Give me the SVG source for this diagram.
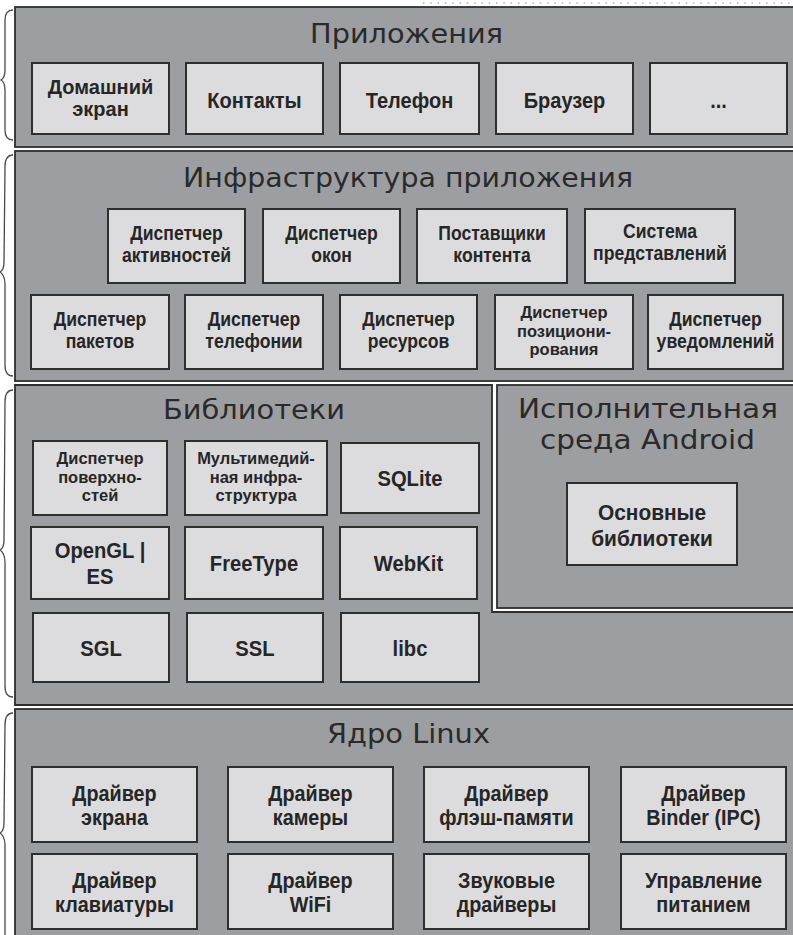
<svg xmlns="http://www.w3.org/2000/svg" width="793" height="935" viewBox="0 0 793 935">
<style>
.layer{fill:#9d9ea2;stroke:#2e2e2e;stroke-width:1.8}
.node{fill:#dcdcde;stroke:#2e2e2e;stroke-width:2}
.brace{fill:none;stroke:#4a4a4a;stroke-width:1.3}
.t{font-family:"DejaVu Sans","Noto Sans",sans-serif;font-size:26px;fill:#2a2a2a;text-anchor:middle}
.n{font-family:"Liberation Sans",Arial,sans-serif;font-weight:bold;font-size:22px;fill:#262626;text-anchor:middle}
.m{font-size:20px}
.s{font-size:16.5px}
</style>
<rect width="793" height="935" fill="#ffffff"/>
<line x1="423" y1="3" x2="793" y2="3" stroke="#b0b0b0" stroke-width="1.5" stroke-dasharray="1.5 5.8"/>
<g id="braces">
<path class="brace" d="M13,10 C7,10 5,14 5,20 L5,70 C5,76 3,79 1,80 C3,81 5,84 5,90 L5,130 C5,136 7,140 13,140"/>
<path class="brace" d="M13,155 C7,155 5,160 5,167 L4,262 C4,268 2,271 0,272 C2,273 5,277 5,284 L5,365 C5,372 7,376 13,376"/>
<path class="brace" d="M13,390 C7,390 5,395 5,402 L4,540 C4,546 2,549 0,550 C2,551 5,555 5,562 L5,686 C5,693 7,697 13,697"/>
<path class="brace" d="M13,713 C7,713 5,718 5,725 L4,823 C4,829 2,832 0,833 C2,834 5,838 5,845 L5,940"/>
</g>
<g id="layer-apps">
<rect class="layer" x="15" y="7" width="790" height="140"/>
<text class="t" x="406.5" y="43" textLength="193" lengthAdjust="spacingAndGlyphs">Приложения</text>
</g>
<g id="layer-framework">
<rect class="layer" x="15" y="151" width="790" height="230"/>
<text class="t" x="408" y="187" textLength="450" lengthAdjust="spacingAndGlyphs">Инфраструктура приложения</text>
</g>
<g id="layer-libraries">
<path class="layer" d="M15,385 H492 V612 H805 V705 H15 Z"/>
<text class="t" x="254" y="419" textLength="182" lengthAdjust="spacingAndGlyphs">Библиотеки</text>
</g>
<g id="layer-runtime">
<rect class="layer" x="497" y="385" width="308" height="223"/>
<text class="t" x="648" y="418" textLength="260" lengthAdjust="spacingAndGlyphs">Исполнительная</text>
<text class="t" x="647.5" y="449" textLength="215" lengthAdjust="spacingAndGlyphs">среда Android</text>
</g>
<g id="layer-kernel">
<rect class="layer" x="15" y="709" width="790" height="240"/>
<text class="t" x="408.5" y="743" textLength="163" lengthAdjust="spacingAndGlyphs">Ядро Linux</text>
</g>

<g id="home"><rect class="node" x="32" y="63" width="137" height="71"/><text class="n m" transform="translate(100.5,0)" y="94">Домашний</text><text class="n m" transform="translate(100.5,0)" y="116">экран</text></g>
<g id="contacts"><rect class="node" x="186" y="63" width="137" height="71"/><text class="n" transform="translate(254.5,0) scale(0.91,1)" y="108">Контакты</text></g>
<g id="phone"><rect class="node" x="340" y="63" width="139" height="71"/><text class="n" transform="translate(409.5,0) scale(0.91,1)" y="108">Телефон</text></g>
<g id="browser"><rect class="node" x="496" y="63" width="137" height="71"/><text class="n" transform="translate(564.5,0) scale(0.91,1)" y="108">Браузер</text></g>
<g id="more"><rect class="node" x="650" y="63" width="137" height="71"/><text class="n" transform="translate(718.5,0) scale(0.91,1)" y="108">...</text></g>

<g id="activity-manager"><rect class="node" x="108" y="209" width="137" height="74"/><text class="n m" transform="translate(176.5,0) scale(0.88,1)" y="240">Диспетчер</text><text class="n m" transform="translate(176.5,0) scale(0.88,1)" y="262">активностей</text></g>
<g id="window-manager"><rect class="node" x="263" y="209" width="137" height="74"/><text class="n m" transform="translate(331.5,0) scale(0.88,1)" y="240">Диспетчер</text><text class="n m" transform="translate(331.5,0) scale(0.88,1)" y="262">окон</text></g>
<g id="content-providers"><rect class="node" x="417" y="209" width="150" height="74"/><text class="n m" transform="translate(492,0) scale(0.88,1)" y="240">Поставщики</text><text class="n m" transform="translate(492,0) scale(0.88,1)" y="262">контента</text></g>
<g id="view-system"><rect class="node" x="585" y="209" width="150" height="74"/><text class="n m" transform="translate(660,0) scale(0.88,1)" y="238">Система</text><text class="n m" transform="translate(660,0) scale(0.88,1)" y="260">представлений</text></g>

<g id="package-manager"><rect class="node" x="31" y="295" width="138" height="74"/><text class="n m" transform="translate(100,0) scale(0.88,1)" y="326">Диспетчер</text><text class="n m" transform="translate(100,0) scale(0.88,1)" y="348">пакетов</text></g>
<g id="telephony-manager"><rect class="node" x="185" y="295" width="138" height="74"/><text class="n m" transform="translate(254,0) scale(0.88,1)" y="326">Диспетчер</text><text class="n m" transform="translate(254,0) scale(0.88,1)" y="348">телефонии</text></g>
<g id="resource-manager"><rect class="node" x="340" y="295" width="137" height="74"/><text class="n m" transform="translate(408.5,0) scale(0.88,1)" y="326">Диспетчер</text><text class="n m" transform="translate(408.5,0) scale(0.88,1)" y="348">ресурсов</text></g>
<g id="location-manager"><rect class="node" x="495" y="295" width="138" height="74"/><text class="n s" transform="translate(564,0)" y="318">Диспетчер</text><text class="n s" transform="translate(564,0)" y="336.5">позициони-</text><text class="n s" transform="translate(564,0)" y="355">рования</text></g>
<g id="notification-manager"><rect class="node" x="648" y="295" width="135" height="74"/><text class="n m" transform="translate(715.5,0) scale(0.88,1)" y="326">Диспетчер</text><text class="n m" transform="translate(715.5,0) scale(0.88,1)" y="348">уведомлений</text></g>

<g id="surface-manager"><rect class="node" x="33" y="441" width="134" height="74"/><text class="n s" transform="translate(100,0)" y="464">Диспетчер</text><text class="n s" transform="translate(100,0)" y="482.5">поверхно-</text><text class="n s" transform="translate(100,0)" y="501">стей</text></g>
<g id="media-framework"><rect class="node" x="185" y="441" width="142" height="74"/><text class="n s" transform="translate(256,0)" y="464">Мультимедий-</text><text class="n s" transform="translate(256,0)" y="482.5">ная инфра-</text><text class="n s" transform="translate(256,0)" y="501">структура</text></g>
<g id="sqlite"><rect class="node" x="341" y="443" width="138" height="70"/><text class="n" transform="translate(410,0) scale(0.92,1)" y="486">SQLite</text></g>
<g id="opengl"><rect class="node" x="31" y="527" width="138" height="72"/><text class="n" transform="translate(100,0) scale(0.92,1)" y="558">OpenGL |</text><text class="n" transform="translate(100,0) scale(0.92,1)" y="584">ES</text></g>
<g id="freetype"><rect class="node" x="185" y="527" width="138" height="72"/><text class="n" transform="translate(254,0) scale(0.92,1)" y="571">FreeType</text></g>
<g id="webkit"><rect class="node" x="340" y="527" width="137" height="72"/><text class="n" transform="translate(408.5,0) scale(0.92,1)" y="571">WebKit</text></g>
<g id="sgl"><rect class="node" x="33" y="613" width="136" height="69"/><text class="n" transform="translate(101,0) scale(0.92,1)" y="656">SGL</text></g>
<g id="ssl"><rect class="node" x="187" y="613" width="136" height="69"/><text class="n" transform="translate(255,0) scale(0.92,1)" y="656">SSL</text></g>
<g id="libc"><rect class="node" x="341" y="613" width="138" height="69"/><text class="n" transform="translate(410,0) scale(0.92,1)" y="656">libc</text></g>

<g id="core-libraries"><rect class="node" x="567" y="483" width="170" height="82"/><text class="n" transform="translate(652,0) scale(0.95,1)" y="520">Основные</text><text class="n" transform="translate(652,0) scale(0.95,1)" y="546">библиотеки</text></g>

<g id="display-driver"><rect class="node" x="32" y="767" width="165" height="75"/><text class="n" transform="translate(114.5,0) scale(0.9,1)" y="801">Драйвер</text><text class="n" transform="translate(114.5,0) scale(0.9,1)" y="825">экрана</text></g>
<g id="camera-driver"><rect class="node" x="228" y="767" width="165" height="75"/><text class="n" transform="translate(310.5,0) scale(0.9,1)" y="801">Драйвер</text><text class="n" transform="translate(310.5,0) scale(0.9,1)" y="825">камеры</text></g>
<g id="flash-driver"><rect class="node" x="424" y="767" width="165" height="75"/><text class="n" transform="translate(506.5,0) scale(0.9,1)" y="801">Драйвер</text><text class="n" transform="translate(506.5,0) scale(0.9,1)" y="825">флэш-памяти</text></g>
<g id="binder-driver"><rect class="node" x="621" y="767" width="165" height="75"/><text class="n" transform="translate(703.5,0) scale(0.9,1)" y="801">Драйвер</text><text class="n" transform="translate(703.5,0) scale(0.9,1)" y="825">Binder (IPC)</text></g>
<g id="keypad-driver"><rect class="node" x="32" y="854" width="165" height="75"/><text class="n" transform="translate(114.5,0) scale(0.9,1)" y="888">Драйвер</text><text class="n" transform="translate(114.5,0) scale(0.9,1)" y="912">клавиатуры</text></g>
<g id="wifi-driver"><rect class="node" x="228" y="854" width="165" height="75"/><text class="n" transform="translate(310.5,0) scale(0.9,1)" y="888">Драйвер</text><text class="n" transform="translate(310.5,0) scale(0.9,1)" y="912">WiFi</text></g>
<g id="audio-drivers"><rect class="node" x="424" y="854" width="165" height="75"/><text class="n" transform="translate(506.5,0) scale(0.9,1)" y="888">Звуковые</text><text class="n" transform="translate(506.5,0) scale(0.9,1)" y="912">драйверы</text></g>
<g id="power-management"><rect class="node" x="621" y="854" width="165" height="75"/><text class="n" transform="translate(703.5,0) scale(0.9,1)" y="888">Управление</text><text class="n" transform="translate(703.5,0) scale(0.9,1)" y="912">питанием</text></g>
</svg>
